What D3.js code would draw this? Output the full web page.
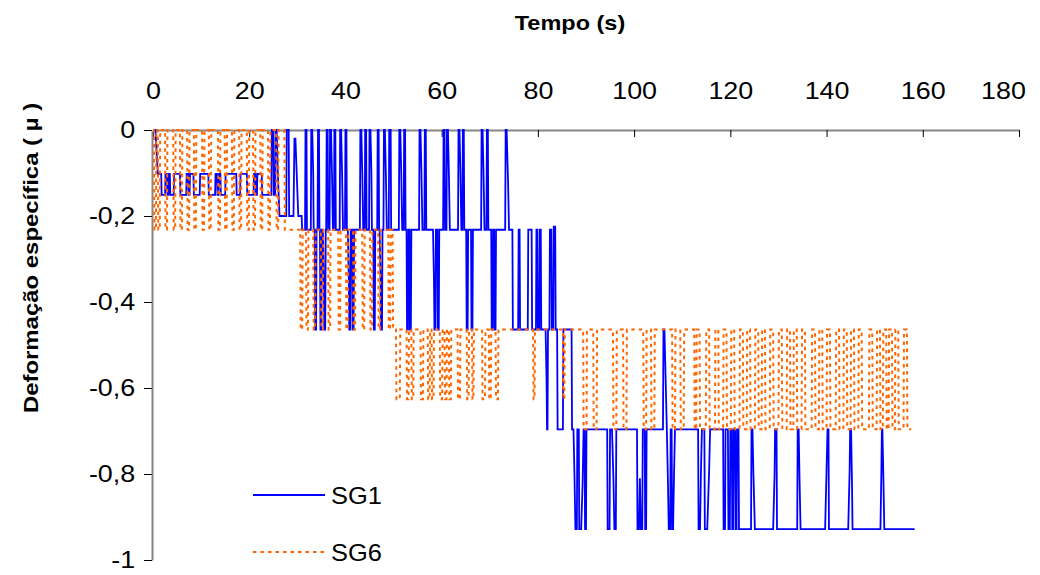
<!DOCTYPE html>
<html>
<head>
<meta charset="utf-8">
<script src="https://cdn.jsdelivr.net/npm/d3@7"></script>
<style>
  body { margin: 0; background: #fff; }
  svg text { font-family: "Liberation Sans", Arial, sans-serif; fill: #000; }
</style>
</head>
<body>
<svg id="chart" width="1040" height="575"></svg>
<script>
// Axis ticks
const xTicks = [0, 20, 40, 60, 80, 100, 120, 140, 160, 180];
const yTicks = [0, -0.2, -0.4, -0.6, -0.8, -1];
const seriesNames = ["SG1", "SG6"];

// SG1 strain record: [time (s), strain]
const sg1 = [
  [0,0],[0.5,0],[0.8,-0.06],[1.0,-0.102],[1.7,-0.102],[1.8,-0.151],[2.5,-0.151],[2.6,-0.102],[2.9,-0.102],[3.0,-0.151],
  [3.2,-0.151],[3.3,-0.102],[3.5,-0.102],[3.6,-0.151],[4.3,-0.151],[4.4,-0.102],[5.6,-0.102],[5.7,-0.151],[6.9,-0.151],
  [7.0,-0.102],[7.3,-0.102],[7.4,-0.151],[7.6,-0.151],[7.7,-0.102],[8.4,-0.102],[8.5,-0.151],[9.7,-0.151],[9.8,-0.102],
  [11.5,-0.102],[11.6,-0.151],[12.9,-0.151],[13.0,-0.102],[13.3,-0.102],[13.4,-0.151],[13.6,-0.151],[13.7,-0.102],
  [14.0,-0.102],[14.1,-0.151],[15.0,-0.151],[15.1,-0.102],[17.3,-0.102],[17.4,-0.151],[18.1,-0.151],[18.2,-0.102],
  [19.5,-0.102],[19.6,-0.151],[20.9,-0.151],[21.0,-0.102],[21.3,-0.102],[21.4,-0.151],[21.6,-0.151],[21.7,-0.102],
  [22.6,-0.102],[22.7,-0.151],[24.6,-0.151],
  [24.7,0],[25.0,0],[25.1,-0.151],[25.4,-0.151],[25.5,0],[25.7,0],[26.0,-0.12],[26.3,-0.2],[27.7,-0.2],[27.8,0],[28.2,0],
  [28.3,-0.2],[29.2,-0.2],[29.4,-0.02],[29.6,-0.02],[30.0,-0.14],[30.2,-0.2],[30.9,-0.2],[31.0,-0.232],
  [31.6,-0.232],[31.7,0],[31.9,0],[32.0,-0.232],
  [32.8,-0.232],[32.9,0],[33.1,0],[33.3,-0.1],[33.4,-0.232],
  [33.6,-0.232],[33.7,-0.464],[33.9,-0.464],[34.0,-0.232],
  [34.2,-0.232],[34.3,0],[34.5,0],[34.6,-0.232],
  [34.7,-0.232],[34.8,-0.464],[35.0,-0.464],[35.1,-0.232],
  [35.3,-0.232],[35.5,-0.35],[35.6,-0.464],[35.8,-0.464],[35.9,-0.232],
  [36.0,-0.232],[36.1,0],[36.3,0],[36.4,-0.232],
  [36.7,-0.232],[36.8,0],[37.0,0],[37.2,-0.1],[37.4,-0.232],
  [37.6,-0.232],[37.7,0],[37.9,0],[38.0,-0.232],
  [38.8,-0.232],[38.9,0],[39.1,0],[39.3,-0.1],[39.5,-0.232],
  [39.9,-0.232],[40.0,0],[40.2,0],[40.3,-0.232],
  [40.5,-0.232],[40.7,-0.35],[40.8,-0.464],[41.0,-0.464],[41.1,-0.232],
  [41.4,-0.232],[41.5,-0.464],[41.7,-0.464],[41.8,-0.232],
  [43.0,-0.232],[43.1,0],[43.3,0],[43.5,-0.1],[43.7,-0.232],
  [44.0,-0.232],[44.1,0],[44.3,0],[44.4,-0.232],
  [44.9,-0.232],[45.0,0],[45.2,0],[45.4,-0.1],[45.5,-0.232],
  [45.8,-0.232],[45.9,-0.464],[46.1,-0.464],[46.2,-0.232],
  [46.6,-0.232],[46.7,0],[46.9,0],[47.0,-0.232],
  [47.1,-0.232],[47.3,-0.35],[47.4,-0.464],[47.6,-0.464],[47.7,-0.232],
  [47.9,-0.232],[48.0,0],[48.2,0],[48.4,-0.1],[48.6,-0.232],
  [49.0,-0.232],[49.1,0],[49.4,0],[49.5,-0.232],
  [51.1,-0.232],[51.2,0],[51.4,0],[51.6,-0.1],[51.8,-0.232],
  [52.1,-0.232],[52.2,0],[52.4,0],[52.5,-0.232],
  [52.7,-0.232],[52.8,-0.464],[53.0,-0.464],[53.1,-0.232],
  [53.3,-0.232],[53.4,-0.464],[53.6,-0.464],[53.7,-0.232],
  [55.3,-0.232],[55.4,0],[55.6,0],[55.8,-0.1],[56.0,-0.232],
  [56.4,-0.232],[56.5,0],[56.7,0],[56.8,-0.232],
  [58.2,-0.232],[58.4,-0.35],[58.5,-0.464],[58.7,-0.464],[58.8,-0.232],
  [59.1,-0.232],[59.2,-0.464],[59.4,-0.464],[59.5,-0.232],
  [60.3,-0.232],[60.4,0],[60.6,0],[60.7,-0.232],
  [61.0,-0.232],[61.1,0],[61.3,0],[61.5,-0.1],[61.7,-0.232],
  [63.4,-0.232],[63.5,0],[63.7,0],[63.9,-0.1],[64.1,-0.232],
  [64.3,-0.232],[64.4,0],[64.6,0],[64.7,-0.232],
  [65.1,-0.232],[65.2,-0.464],[65.4,-0.464],[65.5,-0.232],
  [66.1,-0.232],[66.2,-0.464],[66.4,-0.464],[66.5,-0.232],
  [68.2,-0.232],[68.3,0],[68.5,0],[68.7,-0.1],[68.9,-0.232],
  [69.3,-0.232],[69.4,0],[69.6,0],[69.7,-0.232],
  [70.3,-0.232],[70.4,-0.464],[70.6,-0.464],[70.7,-0.232],
  [70.9,-0.232],[71.0,-0.464],[71.2,-0.464],[71.3,-0.232],
  [73.2,-0.232],[73.3,0],[73.5,0],[73.8,-0.12],[74.0,-0.232],
  [74.7,-0.232],[74.8,-0.464],
  [75.9,-0.464],[76.0,-0.232],[76.2,-0.232],[76.3,-0.464],
  [77.9,-0.464],[78.0,-0.232],[78.7,-0.232],[78.8,-0.464],
  [79.6,-0.464],[79.7,-0.232],[79.9,-0.232],[80.0,-0.464],[80.3,-0.464],[80.4,-0.232],[80.6,-0.232],[80.7,-0.464],
  [81.6,-0.464],[81.8,-0.58],[81.9,-0.696],[82.0,-0.696],[82.1,-0.464],
  [82.4,-0.464],[82.5,-0.232],[82.8,-0.232],[82.9,-0.464],[83.2,-0.464],[83.3,-0.225],[83.6,-0.225],[83.7,-0.464],
  [84.0,-0.464],[84.1,-0.696],[85.2,-0.696],[85.3,-0.464],
  [87.0,-0.464],[87.1,-0.696],[87.4,-0.696],[87.6,-0.8],[87.8,-0.928],[88.1,-0.928],[88.2,-0.696],[88.5,-0.696],
  [88.6,-0.928],[89.0,-0.928],[89.3,-0.82],[89.5,-0.696],[89.7,-0.696],[89.8,-0.928],[90.0,-0.928],[90.1,-0.696],
  [94.4,-0.696],[94.5,-0.928],[94.9,-0.928],[95.0,-0.696],[95.4,-0.696],[95.7,-0.81],[95.9,-0.928],[96.2,-0.928],[96.3,-0.696],
  [100.6,-0.696],[100.7,-0.928],[101.0,-0.928],[101.2,-0.81],[101.4,-0.928],[101.7,-0.928],[101.8,-0.696],
  [102.2,-0.696],[102.3,-0.928],[102.5,-0.928],[102.6,-0.696],
  [106.0,-0.696],[106.1,-0.464],[106.3,-0.464],[106.6,-0.6],[106.8,-0.696],[107.0,-0.8],[107.2,-0.928],[107.5,-0.928],
  [107.6,-0.696],[107.8,-0.696],[107.9,-0.928],[108.1,-0.928],[108.3,-0.8],[108.5,-0.696],
  [113.3,-0.696],[113.4,-0.928],[113.7,-0.928],[113.9,-0.79],[114.1,-0.696],
  [114.6,-0.696],[114.7,-0.928],[115.2,-0.928],[115.6,-0.79],[115.8,-0.696],
  [118.5,-0.696],[118.6,-0.928],[118.9,-0.928],[119.0,-0.696],[119.5,-0.696],[119.6,-0.928],[119.9,-0.928],[120.0,-0.696],
  [120.3,-0.696],[120.4,-0.928],[120.6,-0.928],[120.7,-0.696],[121.0,-0.696],[121.1,-0.928],[121.3,-0.928],[121.4,-0.696],
  [121.7,-0.696],[121.8,-0.928],
  [124.3,-0.928],[124.4,-0.696],[124.6,-0.696],[124.8,-0.8],[125.1,-0.928],
  [128.9,-0.928],[129.2,-0.8],[129.3,-0.696],[129.6,-0.696],[129.7,-0.928],
  [133.9,-0.928],[134.0,-0.696],[134.2,-0.696],[134.4,-0.82],[134.6,-0.928],
  [139.7,-0.928],[140.0,-0.79],[140.2,-0.696],[140.4,-0.696],[140.5,-0.928],
  [144.5,-0.928],[144.8,-0.79],[144.9,-0.696],[145.1,-0.696],[145.3,-0.83],[145.4,-0.928],
  [151.2,-0.928],[151.4,-0.79],[151.5,-0.696],[151.6,-0.696],[151.8,-0.8],[152.0,-0.928],
  [158.3,-0.928]
];

// SG6 strain record: [time (s), strain]
const sg6 = [
  [0,0],[0.2,0],[0.3,-0.232],[0.6,-0.232],[0.7,0],
  [1.0,0],[1.1,-0.232],[1.4,-0.232],[1.5,0],
  [2.5,0],[2.6,-0.232],[2.9,-0.232],[3.0,0],
  [4.2,0],[4.3,-0.232],[4.6,-0.232],[4.7,0],
  [5.6,0],[5.7,-0.232],[6.0,-0.232],[6.1,0],
  [7.1,0],[7.2,-0.232],[7.5,-0.232],[7.6,0],
  [8.5,0],[8.6,-0.232],[8.9,-0.232],[9.0,0],
  [10.2,0],[10.3,-0.232],[10.6,-0.232],[10.7,0],
  [11.6,0],[11.7,-0.232],[12.0,-0.232],[12.1,0],
  [13.5,0],[13.6,-0.232],[13.9,-0.232],[14.0,0],
  [14.9,0],[15.0,-0.232],[15.3,-0.232],[15.4,0],
  [16.4,0],[16.5,-0.232],[16.8,-0.232],[16.9,0],
  [17.9,0],[18.0,-0.232],[18.3,-0.232],[18.4,0],
  [19.5,0],[19.6,-0.232],[19.9,-0.232],[20.0,0],
  [20.8,0],[20.9,-0.232],[21.2,-0.232],[21.3,0],
  [22.3,0],[22.4,-0.232],[22.7,-0.232],[22.8,0],
  [23.9,0],[24.0,-0.232],[24.3,-0.232],[24.4,0],
  [25.6,0],[25.7,-0.232],[26.0,-0.232],[26.1,0],
  [27.3,0],[27.4,-0.232],
  [30.6,-0.232],[30.7,-0.464],[31.0,-0.464],[31.1,-0.232],
  [31.8,-0.232],[31.9,-0.464],[32.2,-0.464],[32.3,-0.232],
  [33.3,-0.232],[33.4,-0.464],[33.7,-0.464],[33.8,-0.232],
  [34.9,-0.232],[35.0,-0.464],[35.3,-0.464],[35.4,-0.232],
  [36.4,-0.232],[36.5,-0.464],[36.8,-0.464],[36.9,-0.232],
  [38.5,-0.232],[38.6,-0.464],[38.9,-0.464],[39.0,-0.232],
  [40.1,-0.232],[40.2,-0.464],[40.5,-0.464],[40.6,-0.232],
  [41.6,-0.232],[41.7,-0.464],[42.0,-0.464],[42.1,-0.232],
  [43.5,-0.232],[43.6,-0.464],[43.9,-0.464],[44.0,-0.232],
  [45.1,-0.232],[45.2,-0.464],[45.5,-0.464],[45.6,-0.232],
  [46.8,-0.232],[46.9,-0.464],[47.2,-0.464],[47.3,-0.232],
  [48.9,-0.232],[49.0,-0.464],[49.3,-0.464],[49.4,-0.232],
  [49.8,-0.232],[49.9,-0.464],
  [50.5,-0.464],[50.6,-0.626],[51.3,-0.626],[51.4,-0.464],
  [52.7,-0.464],[52.8,-0.626],[53.1,-0.626],[53.2,-0.464],
  [53.7,-0.464],[53.8,-0.626],[54.1,-0.626],[54.2,-0.464],
  [55.6,-0.464],[55.7,-0.626],[56.1,-0.626],[56.2,-0.464],
  [57.1,-0.464],[57.2,-0.626],[57.5,-0.626],[57.6,-0.464],
  [57.9,-0.464],[58.0,-0.626],[58.3,-0.626],[58.4,-0.464],
  [59.6,-0.464],[59.7,-0.626],[60.1,-0.626],[60.2,-0.464],
  [60.6,-0.464],[60.7,-0.626],[61.0,-0.626],[61.1,-0.464],
  [61.5,-0.464],[61.6,-0.626],[61.9,-0.626],[62.0,-0.464],
  [63.3,-0.464],[63.4,-0.626],[63.8,-0.626],[63.9,-0.464],
  [65.2,-0.464],[65.3,-0.626],[65.6,-0.626],[65.7,-0.464],
  [66.3,-0.464],[66.4,-0.626],[66.6,-0.626],[66.7,-0.464],
  [68.4,-0.464],[68.5,-0.626],[69.0,-0.626],[69.1,-0.464],
  [69.8,-0.464],[69.9,-0.626],[70.2,-0.626],[70.3,-0.464],
  [71.2,-0.464],[71.3,-0.626],[71.7,-0.626],[71.8,-0.464],
  [79.0,-0.464],[79.1,-0.626],[79.3,-0.626],[79.4,-0.464],
  [85.2,-0.464],[85.3,-0.626],[85.5,-0.626],[85.6,-0.464],
  [89.4,-0.464],[89.5,-0.696],[90.1,-0.696],[90.2,-0.464],
  [91.5,-0.464],[91.6,-0.696],[92.2,-0.696],[92.3,-0.464],
  [95.6,-0.464],[95.7,-0.696],[96.3,-0.696],[96.4,-0.464],
  [97.7,-0.464],[97.8,-0.696],[98.4,-0.696],[98.5,-0.464],
  [101.9,-0.464],[102.0,-0.696],[102.5,-0.696],[102.6,-0.464],
  [103.5,-0.464],[103.6,-0.696],[104.2,-0.696],[104.3,-0.464],
  [107.9,-0.464],[108.0,-0.696],[108.5,-0.696],[108.6,-0.464],
  [109.6,-0.464],[109.7,-0.696],[110.3,-0.696],[110.4,-0.464],
  [112.5,-0.464],[112.6,-0.696],
  [112.9,-0.696],[113.0,-0.464],[113.6,-0.464],[113.7,-0.696],
  [114.9,-0.696],[115.0,-0.464],[115.6,-0.464],[115.7,-0.696],
  [116.8,-0.696],[116.9,-0.464],[117.5,-0.464],[117.6,-0.696],
  [118.5,-0.696],[118.6,-0.464],[119.2,-0.464],[119.3,-0.696],
  [120.1,-0.696],[120.2,-0.464],[120.8,-0.464],[120.9,-0.696],
  [121.9,-0.696],[122.0,-0.464],[122.6,-0.464],[122.7,-0.696],
  [123.4,-0.696],[123.5,-0.464],[124.1,-0.464],[124.2,-0.696],
  [125.1,-0.696],[125.2,-0.464],[125.8,-0.464],[125.9,-0.696],
  [126.5,-0.696],[126.6,-0.464],[127.2,-0.464],[127.3,-0.696],
  [128.2,-0.696],[128.3,-0.464],[128.9,-0.464],[129.0,-0.696],
  [130.0,-0.696],[130.1,-0.464],[130.7,-0.464],[130.8,-0.696],
  [131.7,-0.696],[131.8,-0.464],[132.4,-0.464],[132.5,-0.696],
  [133.1,-0.696],[133.2,-0.464],[133.8,-0.464],[133.9,-0.696],
  [134.8,-0.696],[134.9,-0.464],[135.5,-0.464],[135.6,-0.696],
  [136.9,-0.696],[137.0,-0.464],[137.6,-0.464],[137.7,-0.696],
  [138.4,-0.696],[138.5,-0.464],[139.1,-0.464],[139.2,-0.696],
  [140.0,-0.696],[140.1,-0.464],[140.7,-0.464],[140.8,-0.696],
  [141.9,-0.696],[142.0,-0.464],[142.6,-0.464],[142.7,-0.696],
  [143.5,-0.696],[143.6,-0.464],[144.2,-0.464],[144.3,-0.696],
  [145.0,-0.696],[145.1,-0.464],[145.7,-0.464],[145.8,-0.696],
  [146.6,-0.696],[146.7,-0.464],[147.3,-0.464],[147.4,-0.696],
  [148.8,-0.696],[148.9,-0.464],[149.5,-0.464],[149.6,-0.696],
  [150.4,-0.696],[150.5,-0.464],[151.1,-0.464],[151.2,-0.696],
  [151.7,-0.696],[151.8,-0.464],[152.4,-0.464],[152.5,-0.696],
  [152.9,-0.696],[153.0,-0.464],[153.6,-0.464],[153.7,-0.696],
  [154.2,-0.696],[154.3,-0.464],[154.9,-0.464],[155.0,-0.696],
  [156.0,-0.696],[156.1,-0.464],[156.7,-0.464],[156.8,-0.696],
  [157.6,-0.696]
];

const seriesColors = ["#0000FF", "#FF6600"];

const svg = d3.select("#chart");
const x = d3.scaleLinear().domain([0, 180]).range([153, 1019]);
const y = d3.scaleLinear().domain([-1, 0]).range([560, 130]);

const locale = d3.formatLocale({ decimal: ",", thousands: ".", grouping: [3], currency: ["", ""], minus: "-" });
const yFmt = locale.format("~g");

// Time axis along the top edge, ticks pointing into the plot
const gx = svg.append("g")
  .attr("transform", `translate(0,${y(0)})`)
  .call(d3.axisTop(x).tickValues(xTicks).tickSize(-7).tickSizeOuter(0).tickPadding(31).tickFormat(d3.format("d")));
gx.attr("font-family", null).attr("font-size", 24);
gx.select(".domain").attr("stroke", "#868686").attr("stroke-width", 2);
gx.selectAll(".tick line").attr("stroke", "#000");
// the last label is pulled inward so it stays inside the chart area
gx.selectAll(".tick text")
  .attr("transform", d => d === 180 ? "translate(-16,0) scale(1.12,1)" : "scale(1.12,1)");

// Strain axis on the left
const gy = svg.append("g")
  .attr("transform", `translate(152,0)`)
  .call(d3.axisLeft(y).tickValues(yTicks).tickSize(8).tickSizeOuter(0).tickPadding(7).tickFormat(yFmt));
gy.attr("font-family", null).attr("font-size", 24);
gy.select(".domain").attr("stroke", "#868686").attr("stroke-width", 2);
gy.selectAll(".tick line").attr("stroke", "#000");
gy.selectAll(".tick text").attr("transform", "scale(1.12,1)");

// Series lines
const line = d3.line().x(d => x(d[0])).y(d => y(d[1]));
svg.append("path").datum(sg1)
  .attr("d", line).attr("fill", "none")
  .attr("stroke", seriesColors[0]).attr("stroke-width", 1.8);
svg.append("path").datum(sg6)
  .attr("d", line).attr("fill", "none")
  .attr("stroke", seriesColors[1]).attr("stroke-width", 2)
  .attr("stroke-dasharray", "3.5,4");

// Titles
svg.append("text")
  .attr("transform", "translate(570,30) scale(1.12,1)")
  .attr("text-anchor", "middle").attr("font-weight", "bold").attr("font-size", 21)
  .text("Tempo (s)");
svg.append("text")
  .attr("transform", "translate(38,258) rotate(-90) scale(1.14,1)")
  .attr("text-anchor", "middle").attr("font-weight", "bold").attr("font-size", 21)
  .text("Deformação específica ( µ )");

// Legend
const legendY = [495, 552];
const legend = svg.append("g");
seriesNames.forEach((name, i) => {
  legend.append("line")
    .attr("x1", 253).attr("x2", 325).attr("y1", legendY[i]).attr("y2", legendY[i])
    .attr("stroke", seriesColors[i]).attr("stroke-width", i === 0 ? 1.8 : 2)
    .attr("stroke-dasharray", i === 0 ? null : "3.5,4");
  legend.append("text")
    .attr("transform", `translate(331,${legendY[i] + 8.5}) scale(1.06,1)`)
    .attr("font-size", 24)
    .text(name);
});
</script>
</body>
</html>
